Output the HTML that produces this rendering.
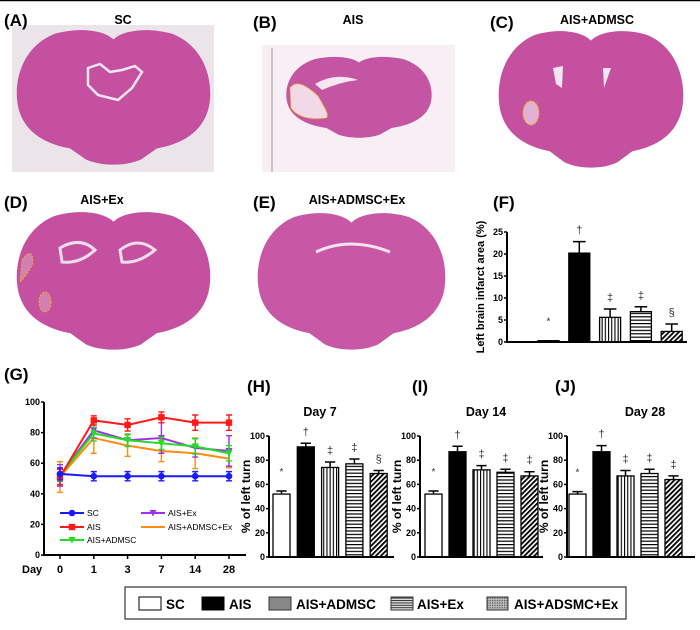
<!DOCTYPE html>
<html><head><meta charset="utf-8">
<style>
html,body{margin:0;padding:0;background:#fff;}
svg{display:block;font-family:"Liberation Sans",Arial,sans-serif;}
.pl{font-size:17px;font-weight:bold;}
.tt{font-size:12.5px;font-weight:bold;}
.tk{font-size:9px;font-weight:bold;}
.ax{stroke:#000;stroke-width:2;fill:none;}
</style></head>
<body>
<svg id="fig" width="700" height="630" viewBox="0 0 700 630" xmlns="http://www.w3.org/2000/svg">
<defs>
<pattern id="pv" width="3.2" height="4" patternUnits="userSpaceOnUse"><rect width="3.2" height="4" fill="#fff"/><rect x="0" width="1.1" height="4" fill="#000"/></pattern>
<pattern id="ph" width="4" height="3.4" patternUnits="userSpaceOnUse"><rect width="4" height="3.4" fill="#fff"/><rect y="0" width="4" height="1.2" fill="#000"/></pattern>
<pattern id="pd" width="3.5" height="3.5" patternUnits="userSpaceOnUse" patternTransform="rotate(45)"><rect width="3.5" height="3.5" fill="#fff"/><rect width="1.8" height="3.5" fill="#000"/></pattern>
<pattern id="lh" width="4" height="2.4" patternUnits="userSpaceOnUse"><rect width="4" height="2.4" fill="#ddd"/><rect width="4" height="1" fill="#333"/></pattern>
<pattern id="lx" width="2.4" height="2.4" patternUnits="userSpaceOnUse"><rect width="2.4" height="2.4" fill="#bbb"/><rect width="1.2" height="1.2" fill="#555"/></pattern>
<path id="brainShape" d="M50,9 C45,2 32,0 20,5 C6,13 0,33 1,52 C2,72 12,84 28,88 L36,96 C44,101 56,101 64,96 L72,88 C88,84 98,72 99,52 C100,33 94,13 80,5 C68,0 55,2 50,9 Z"/>
</defs>
<line x1="0" y1="0.5" x2="700" y2="0.5" stroke="#000" stroke-width="1.5"/>

<g>
<rect x="12" y="25" width="202" height="147" fill="#ebe5e9"/>
<g transform="translate(15,27) scale(1.97,1.38)"><use href="#brainShape" fill="#c4509f"/></g>
<path d="M88,68 L100,64 L110,72 L122,70 L135,66 L142,72 L132,88 L118,100 L98,95 L88,85 Z" fill="none" stroke="#f4e6f0" stroke-width="2.5"/>
<text class="pl" x="4" y="26">(A)</text>
<text class="tt" x="123" y="24" text-anchor="middle">SC</text>
</g>

<g>
<text class="pl" x="253" y="28">(B)</text>
<text class="tt" x="353" y="24" text-anchor="middle">AIS</text>
<rect x="262" y="45" width="193" height="127" fill="#f8eff4"/>
<line x1="272" y1="48" x2="272" y2="172" stroke="#999" stroke-width="1"/>
<g transform="translate(285,55) scale(1.48,0.83)"><use href="#brainShape" fill="#c455a3"/></g>
<path d="M290,88 C296,80 305,84 318,96 C325,108 330,116 326,118 C312,120 298,118 291,108 Z" fill="#f1d9e8" stroke="#f0b400" stroke-width="1" stroke-dasharray="2,1.5"/>
<path d="M315,84 Q335,72 358,80 Q340,82 322,90 Z" fill="#f6e6ef"/>
</g>

<g>
<text class="pl" x="490" y="28">(C)</text>
<text class="tt" x="597" y="24" text-anchor="middle">AIS+ADMSC</text>
<g transform="translate(497,28) scale(1.88,1.40)"><use href="#brainShape" fill="#c4509f"/></g>
<path d="M553,68 L563,66 L562,88 L556,84 Z M603,68 L611,68 L604,88 Z" fill="#f4e6f0"/>
<ellipse cx="531" cy="113" rx="8" ry="12" fill="#e2b0d0" stroke="#f0b400" stroke-width="1" stroke-dasharray="2,1.5"/>
</g>

<g>
<text class="pl" x="4" y="208">(D)</text>
<text class="tt" x="102" y="204" text-anchor="middle">AIS+Ex</text>
<g transform="translate(15,209) scale(1.97,1.41)"><use href="#brainShape" fill="#c4509f"/></g>
<path d="M60,248 Q80,236 95,250 Q80,264 62,262 Z M120,250 Q138,236 155,250 Q138,264 122,262 Z" fill="none" stroke="#f0dbe9" stroke-width="3"/>
<path d="M22,260 Q32,246 33,262 Q30,272 20,282 Z" fill="#d27fb6" stroke="#f0b400" stroke-width="1" stroke-dasharray="2,1.5"/>
<ellipse cx="45" cy="302" rx="6" ry="10" fill="#d27fb6" stroke="#f0b400" stroke-width="1" stroke-dasharray="2,1.5"/>
</g>

<g>
<text class="pl" x="253" y="208">(E)</text>
<text class="tt" x="357" y="204" text-anchor="middle">AIS+ADMSC+Ex</text>
<g transform="translate(256,210) scale(1.91,1.40)"><use href="#brainShape" fill="#c857a5"/></g>
<path d="M316,252 Q350,236 390,252" fill="none" stroke="#f3e3ee" stroke-width="3"/>
</g>

<text class="pl" x="493" y="208">(F)</text>
<text class="pl" x="4" y="380">(G)</text>
<text class="pl" x="247" y="392">(H)</text>
<text class="pl" x="412" y="392">(I)</text>
<text class="pl" x="555" y="392">(J)</text>
<text class="tt" x="320" y="416" text-anchor="middle">Day 7</text>
<text class="tt" x="486" y="416" text-anchor="middle">Day 14</text>
<text class="tt" x="645" y="416" text-anchor="middle">Day 28</text>

<g id="charts"></g>

<g>
<rect x="125" y="587" width="501" height="32" fill="#fff" stroke="#333" stroke-width="1.2"/>
<rect x="139" y="597" width="22" height="13" fill="#fff" stroke="#000"/>
<text x="166" y="609" font-size="13.5" font-weight="bold">SC</text>
<rect x="202" y="597" width="22" height="13" fill="#000" stroke="#000"/>
<text x="229" y="609" font-size="13.5" font-weight="bold">AIS</text>
<rect x="269" y="597" width="22" height="13" fill="#888" stroke="#333"/>
<text x="296" y="609" font-size="13.5" font-weight="bold">AIS+ADMSC</text>
<rect x="391" y="597" width="22" height="13" fill="url(#lh)" stroke="#333"/>
<text x="417" y="609" font-size="13.5" font-weight="bold">AIS+Ex</text>
<rect x="487" y="597" width="21" height="13" fill="url(#lx)" stroke="#333"/>
<text x="514" y="609" font-size="13.5" font-weight="bold">AIS+ADSMC+Ex</text>
</g>
</svg>
<script>
const groups = ["SC","AIS","AIS+ADMSC","AIS+Ex","AIS+ADMSC+Ex"];
const fills = ["#fff","#000","url(#pv)","url(#ph)","url(#pd)"];
const marks = ["*","†","‡","‡","§"];
const marks2 = ["*","†","‡","‡","‡"];
const infarct = [0.3, 20.2, 5.6, 6.9, 2.4];
const infarctErr = [0, 2.6, 1.9, 1.1, 1.7];
const day7 = [52, 91, 74, 77, 69];
const day7Err = [2.5, 3, 4.5, 4, 2.5];
const day14 = [52, 87, 72, 70, 67];
const day14Err = [2.5, 4.5, 3.5, 2.5, 3.5];
const day28 = [52, 87, 67, 69, 64];
const day28Err = [2, 5, 4.5, 3.5, 3];
const turnTicks = [0, 20, 40, 60, 80, 100];
const infarctTicks = [0, 5, 10, 15, 20, 25];
const days = ["0","1","3","7","14","28"];
const lineSC = [53, 51.5, 51.5, 51.5, 51.5, 51.5];
const lineSCErr = [4, 3, 3, 3, 3, 3];
const lineAIS = [51, 88, 85, 90, 86.5, 86.5];
const lineAISErr = [5, 3, 4, 3.5, 5, 5];
const lineADMSC = [52, 79.5, 75, 73, 71, 66.5];
const lineADMSCErr = [4, 5, 4, 4, 5, 5];
const lineEx = [52, 81.5, 75, 76.5, 70, 68];
const lineExErr = [7, 5, 4, 10, 6, 10];
const lineCombo = [51, 76.5, 71.5, 68, 66.5, 63];
const lineComboErr = [10, 10, 7, 7, 10, 6];

const NS = "http://www.w3.org/2000/svg";
const root = document.getElementById("charts");
function mk(tag, attrs, parent) {
  const e = document.createElementNS(NS, tag);
  for (const k in attrs) e.setAttribute(k, attrs[k]);
  (parent || root).appendChild(e);
  return e;
}

function barChart(id, vals, errs, ticks, ax, mks) {
  const g = mk("g", {});
  
  
  const ymax = ticks[ticks.length - 1];
  const y = v => ax.y0 - (v / ymax) * (ax.y0 - ax.yTop);
  const x = i => ax.x0 + ax.first + i * ax.step;
  vals.forEach((v, i) => {
    const top = y(v);
    const r = mk("rect", {x: x(i), y: top, width: ax.bw, height: Math.max(ax.y0 - top, 1.5), fill: fills[i], stroke: "#000", "stroke-width": 1.3}, g);
    
    
    const cx = x(i) + ax.bw / 2, et = y(v + errs[i]);
    if (errs[i] > 0) {
      const eb = mk("path", {d: `M${cx},${top} V${et} M${cx - ax.bw * 0.3},${et} H${cx + ax.bw * 0.3}`, stroke: "#000", "stroke-width": 1.5, fill: "none"}, g);
      
      
    }
    const off = i === 0 ? 16 : 8;
    const t = mk("text", {x: cx, y: et - off, "text-anchor": "middle", "font-size": i === 0 ? 10 : 11, fill: "#333"}, g);
    t.textContent = mks[i];
    
    
  });
  const a = mk("path", {d: `M${ax.x0},${ax.yTop} V${ax.y0} H${ax.xEnd}`, class: "ax"}, g);
  
  
  ticks.forEach(tv => {
    const ty = y(tv);
    mk("line", {x1: ax.x0 - 3, x2: ax.x0, y1: ty, y2: ty, stroke: "#000", "stroke-width": 1.5}, g);
    const t = mk("text", {x: ax.x0 - 4, y: ty + 3, "text-anchor": "end", class: "tk"}, g);
    t.textContent = tv;
    
    
  });
  const yl = mk("text", {x: 0, y: 0, "text-anchor": "middle", "font-size": ax.lfs, "font-weight": "bold", transform: `translate(${ax.lx},${(ax.y0 + ax.yTop) / 2}) rotate(-90)`}, g);
  yl.textContent = ax.label;
  
  
}

barChart("infarct", infarct, infarctErr, infarctTicks, {x0: 507, y0: 342, yTop: 232, xEnd: 687, first: 31, step: 30.8, bw: 21, lx: 484, label: "Left brain infarct area (%)", lfs: 11}, marks);
barChart("day7", day7, day7Err, turnTicks, {x0: 269, y0: 557, yTop: 436, xEnd: 394, first: 4, step: 24.3, bw: 17, lx: 250, label: "% of left turn", lfs: 12}, marks);
barChart("day14", day14, day14Err, turnTicks, {x0: 420, y0: 557, yTop: 436, xEnd: 543, first: 5, step: 24, bw: 17, lx: 401, label: "% of left turn", lfs: 12}, marks2);
barChart("day28", day28, day28Err, turnTicks, {x0: 567, y0: 557, yTop: 436, xEnd: 695, first: 2, step: 24, bw: 17, lx: 548, label: "% of left turn", lfs: 12}, marks2);

(function () {
  const g = mk("g", {});
  
  
  const X0 = 44, Y0 = 555, YT = 402;
  const gy = v => Y0 - v / 100 * (Y0 - YT);
  const gx = i => 60 + i * 33.8;
  const series = [
    ["sc", lineSC, lineSCErr, "#1a1aff", "o"],
    ["ais", lineAIS, lineAISErr, "#ff1a1a", "s"],
    ["admsc", lineADMSC, lineADMSCErr, "#22dd22", "v"],
    ["ex", lineEx, lineExErr, "#a030f0", "v"],
    ["admsc-ex", lineCombo, lineComboErr, "#ff8c10", "n"]
  ];
  function marker(kind, cx, cy, col, parent) {
    if (kind === "o") return mk("circle", {cx, cy, r: 3.3, fill: col}, parent);
    if (kind === "s") return mk("rect", {x: cx - 3.2, y: cy - 3.2, width: 6.4, height: 6.4, fill: col}, parent);
    if (kind === "v") return mk("path", {d: `M${cx - 3.5},${cy - 3} H${cx + 3.5} L${cx},${cy + 3.5} Z`, fill: col}, parent);
    return null;
  }
  series.slice().reverse().forEach(s => {
    const [name, vals, errs, col, mkind] = s;
    const sg = mk("g", {}, g);
    
    
    vals.forEach((v, i) => {
      const cx = gx(i);
      mk("path", {d: `M${cx},${gy(v - errs[i])} V${gy(v + errs[i])} M${cx - 3},${gy(v - errs[i])} h6 M${cx - 3},${gy(v + errs[i])} h6`, stroke: col, "stroke-width": 1.4, fill: "none"}, sg);
    });
    const ln = mk("polyline", {points: vals.map((v, i) => gx(i) + "," + gy(v)).join(" "), stroke: col, "stroke-width": 2, fill: "none"}, sg);
    
    
    vals.forEach((v, i) => {
      const m = marker(mkind, gx(i), gy(v), col, sg);
      if (m) {
        
        
      }
    });
  });
  const a = mk("path", {d: `M${X0},${YT} V${Y0} H246`, class: "ax"}, g);
  
  
  turnTicks.forEach(tv => {
    mk("line", {x1: X0 - 3, x2: X0, y1: gy(tv), y2: gy(tv), stroke: "#000", "stroke-width": 1.5}, g);
    const t = mk("text", {x: X0 - 4, y: gy(tv) + 3, "text-anchor": "end", class: "tk"}, g);
    t.textContent = tv;
    
    
  });
  days.forEach((d, i) => {
    mk("line", {x1: gx(i), x2: gx(i), y1: Y0, y2: Y0 + 4, stroke: "#000", "stroke-width": 1.5}, g);
    const t = mk("text", {x: gx(i), y: 573, "text-anchor": "middle", "font-size": 11, "font-weight": "bold"}, g);
    t.textContent = d;
    
    
  });
  const dl = mk("text", {x: 22, y: 573, "font-size": 11, "font-weight": "bold"}, g);
  dl.textContent = "Day";
  
  
  const leg = [["SC", 60, 513, 0], ["AIS", 60, 527, 1], ["AIS+ADMSC", 60, 540, 2], ["AIS+Ex", 141, 513, 3], ["AIS+ADMSC+Ex", 141, 527, 4]];
  leg.forEach(L => {
    const s = series[L[3]];
    const lg = mk("g", {}, g);
    
    
    mk("line", {x1: L[1], x2: L[1] + 24, y1: L[2], y2: L[2], stroke: s[3], "stroke-width": 2}, lg);
    marker(s[4], L[1] + 12, L[2], s[3], lg);
    const t = mk("text", {x: L[1] + 27, y: L[2] + 3, "font-size": 8.5}, lg);
    t.textContent = L[0];
  });
})();
</script>
</body></html>
